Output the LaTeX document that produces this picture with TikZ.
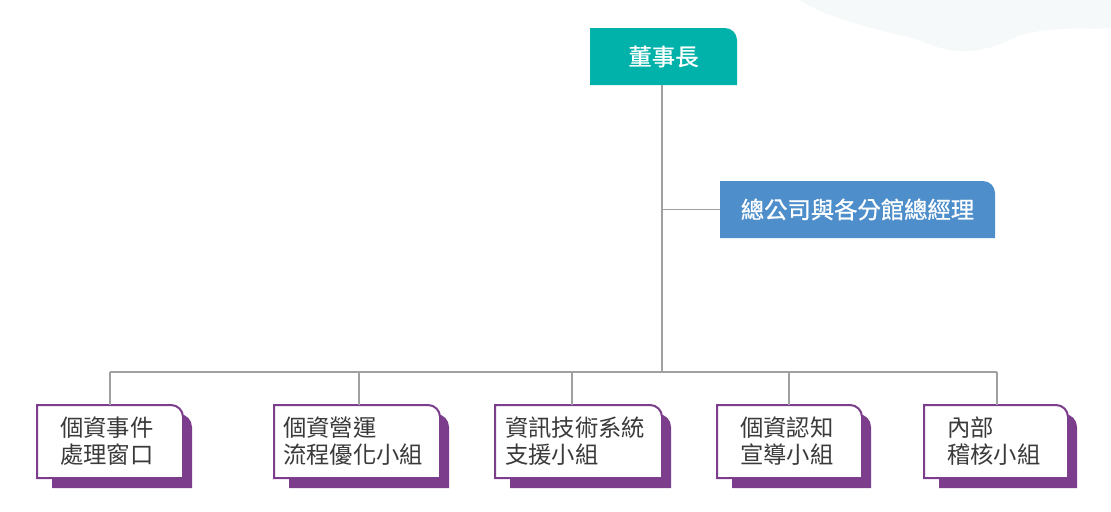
\documentclass[tikz,border=0pt]{standalone}
\usepackage{fontspec}
\setmainfont{Noto Sans CJK TC}
\newfontfamily\headfont[FakeBold=0.8]{Noto Sans CJK TC}
\definecolor{chairteal}{HTML}{00B2A9}
\definecolor{gmblue}{HTML}{4D8ECB}
\definecolor{grppurple}{HTML}{7B3D8C}
\definecolor{linegray}{HTML}{A0A0A0}
\definecolor{txtgray}{HTML}{3A3A3A}
\definecolor{washblue}{HTML}{F6F9FA}
\begin{document}
\begin{tikzpicture}[x=0.75pt,y=-0.75pt,
  conn/.style={draw=linegray,line width=0.8pt},
  lbl/.style={font=\fontsize{17.5}{20.25}\selectfont,inner sep=0pt},
  headlbl/.style={font=\fontsize{17.5}{20.25}\selectfont\headfont,inner sep=0pt,text=white},
  hole/.style={inner sep=0pt,draw=none}]
\useasboundingbox (0,0) rectangle (1111,511);
\fill[white] (0,0) rectangle (1111,511);
% faint wash at top right
\fill[washblue] (800,0) .. controls (830,20) and (880,30) .. (920,40) .. controls (960,60) and (990,50) .. (1020,35) .. controls (1060,25) and (1090,30) .. (1111,28) -- (1111,0) -- cycle;
% chairman box
\fill[chairteal] (590,85) -- (590,28) -- (725,28) .. controls (731.6,28) and (737,33.4) .. (737,40) -- (737,85) -- cycle;
\node[hole,headlbl,minimum width=110.25pt,minimum height=42.75pt] (chair) at (663.5,56.5) {董事長};
% general manager box
\fill[gmblue] (720,238) -- (720,181) -- (983,181) .. controls (989.6,181) and (995,186.4) .. (995,193) -- (995,238) -- cycle;
\node[hole,headlbl,minimum width=206.25pt,minimum height=42.75pt] (gm) at (857.5,209.5) {總公司與各分館總經理};
% bottom group boxes
\foreach \l/\r/\d/\pad/\txt/\n in {
  37/183/110/23/{個資事件\\處理窗口}/b1,
  274/440/359/9/{個資營運\\流程優化小組}/b2,
  495/662/572/10/{資訊技術系統\\支援小組}/b3,
  717/862/789/23/{個資認知\\宣導小組}/b4,
  924/1068/997/23/{內部\\稽核小組}/b5}{
  \fill[grppurple] ({\l+15},488) -- ({\l+15},414) -- ({\r+9-13},414) .. controls ({\r+9-5.8},414) and ({\r+9},419.8) .. ({\r+9},427) -- ({\r+9},488) -- cycle;
  \filldraw[fill=white,draw=grppurple,line width=1.5pt] (\l,478) -- (\l,405) -- ({\r-12},405) .. controls ({\r-5.4},405) and (\r,410.4) .. (\r,417) -- (\r,478) -- cycle;
  \node[hole,minimum width={(\r-\l)*0.75pt},minimum height=54.75pt] (\n) at ({(\l+\r)/2},441.5) {};
  \node[lbl,text=txtgray,align=left,anchor=west] (\n-t) at ({\l+\pad},441.5) {\txt};
  \coordinate (\n-d) at (\d,372);
  \draw[conn] (\n-d) -- (\n-d |- \n.north);
}
% trunk and branches
\coordinate (trunk) at (662,372);
\draw[conn] (b1-d) -- (b5-d);
\draw[conn] (chair.south -| trunk) -- (trunk);
\draw[conn] (gm.west) -- (gm.west -| trunk);
\end{tikzpicture}
\end{document}
